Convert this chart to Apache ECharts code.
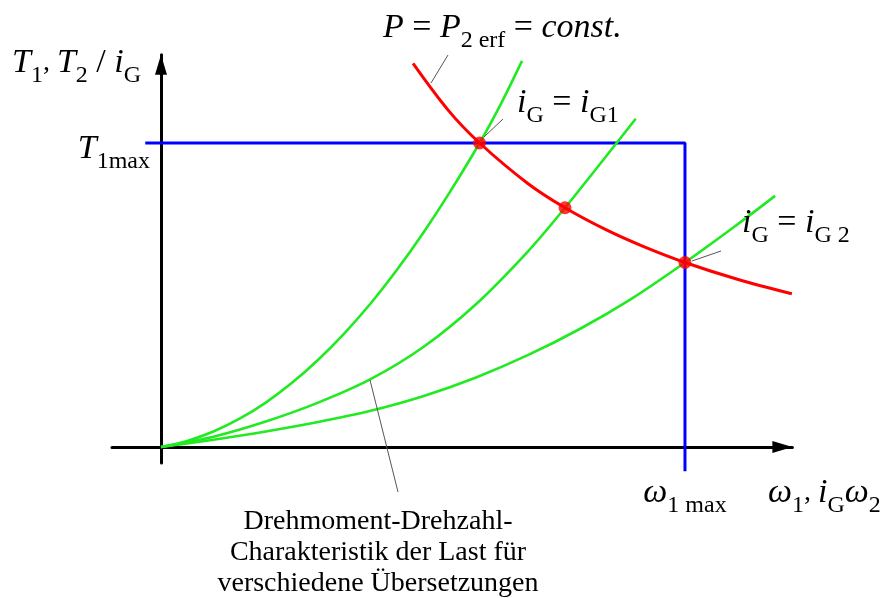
<!DOCTYPE html>
<html>
<head>
<meta charset="utf-8">
<script src="https://cdn.jsdelivr.net/npm/echarts@6/dist/echarts.min.js"></script>
<style>
  html, body { margin: 0; padding: 0; background: #fff; }
  #chart { width: 883px; height: 598px; }
</style>
</head>
<body>
<div id="chart"></div>
<script>
// Load characteristics T(ω) for three gear ratios (normalised: ω1max = 1, T1max = 1)
const gearHighOmega  = [0, 0.05, 0.1, 0.15, 0.2, 0.25, 0.3, 0.35, 0.4, 0.45, 0.5, 0.55, 0.608, 0.65, 0.689];
const gearHighTorque = [0, 0.02, 0.051, 0.093, 0.146, 0.211, 0.287, 0.374, 0.472, 0.582, 0.703, 0.835, 1.0, 1.133, 1.27];
const gearMidOmega   = [0, 0.1, 0.2, 0.3, 0.4, 0.5, 0.6, 0.7, 0.771, 0.906];
const gearMidTorque  = [0, 0.034, 0.084, 0.146, 0.223, 0.328, 0.468, 0.643, 0.787, 1.08];
const gearLowOmega   = [0, 0.1, 0.2, 0.3, 0.4, 0.5, 0.6, 0.7, 0.8, 0.9, 1.0, 1.1, 1.172];
const gearLowTorque  = [0, 0.024, 0.051, 0.082, 0.119, 0.167, 0.228, 0.302, 0.389, 0.49, 0.607, 0.732, 0.826];

// Constant required power P = P2erf: hyperbola T·ω = const.
const powerOmega  = [0.481, 0.55, 0.608, 0.7, 0.771, 0.85, 0.92, 1.0, 1.1, 1.204];
const powerTorque = [1.262, 1.104, 1.0, 0.867, 0.787, 0.714, 0.66, 0.607, 0.552, 0.504];

// Operating points where the load curves meet the power hyperbola
const pointOmega  = [0.608, 0.771, 1.0];
const pointTorque = [1.0, 0.787, 0.607];

// Motor limits: T1max (horizontal) and ω1max (vertical)
const limitOmega  = [-0.03, 1.0, 1.0];
const limitTorque = [1.0, 1.0, -0.08];

// Axis tick labels
const omegaTicks = [1.0];
const omegaTickLabels = ['{v|ω}{s|1 max}'];
const torqueTicks = [1.0];
const torqueTickLabels = ['{v|T}{s|1max}'];

const zip = (xs, ys) => xs.map((x, i) => [x, ys[i]]);

const SERIF = '"Liberation Serif", "DejaVu Serif", serif';
const rich = {
  v: { fontFamily: SERIF, fontStyle: 'italic', fontSize: 34, color: '#000' },
  n: { fontFamily: SERIF, fontSize: 34, color: '#000' },
  c: { fontFamily: SERIF, fontSize: 28, color: '#000' },
  s: { fontFamily: SERIF, fontSize: 24, color: '#000', padding: [26, 0, 0, 0] }
};

const chart = echarts.init(document.getElementById('chart'), null, { renderer: 'canvas' });

const greenLine = { color: '#22ea22', width: 2.6 };
const leader = { stroke: '#555', lineWidth: 1 };

const baseGraphics = [
  // leader lines from the annotations to their curves
  { type: 'line', shape: { x1: 448, y1: 55, x2: 431, y2: 83 }, style: leader, z: 10 },
  { type: 'line', shape: { x1: 503, y1: 119, x2: 484, y2: 137 }, style: leader, z: 10 },
  { type: 'line', shape: { x1: 721, y1: 251, x2: 692, y2: 261 }, style: leader, z: 10 },
  { type: 'line', shape: { x1: 370, y1: 380, x2: 398, y2: 492 }, style: leader, z: 10 },
  // axis titles and annotations
  { type: 'text', x: 12, y: 63, z: 10, style: {
      text: '{v|T}{s|1}{c|, }{v|T}{s|2}{n| / }{v|i}{s|G}', rich: rich,
      align: 'left', verticalAlign: 'middle' } },
  { type: 'text', x: 768, y: 493, z: 10, style: {
      text: '{v|ω}{s|1}{c|, }{v|i}{s|G}{v|ω}{s|2}', rich: rich,
      align: 'left', verticalAlign: 'middle' } },
  { type: 'text', x: 383, y: 28, z: 10, style: {
      text: '{v|P}{n| = }{v|P}{s|2 erf}{n| = }{v|const.}', rich: rich,
      align: 'left', verticalAlign: 'middle' } },
  { type: 'text', x: 517, y: 103, z: 10, style: {
      text: '{v|i}{s|G}{n| = }{v|i}{s|G1}', rich: rich,
      align: 'left', verticalAlign: 'middle' } },
  { type: 'text', x: 742, y: 223, z: 10, style: {
      text: '{v|i}{s|G}{n| = }{v|i}{s|G 2}', rich: rich,
      align: 'left', verticalAlign: 'middle' } },
  { type: 'text', x: 378, y: 553, z: 10, style: {
      text: 'Drehmoment-Drehzahl-\nCharakteristik der Last für\nverschiedene Übersetzungen',
      fontFamily: SERIF, fontSize: 28, lineHeight: 31, fill: '#000',
      align: 'center', verticalAlign: 'middle' } }
];

const axisCommon = {
  type: 'value',
  splitLine: { show: false },
  axisTick: { show: false },
  axisLabel: { show: false },
  axisLine: {
    onZero: true,
    symbol: ['none', 'triangle'],
    symbolSize: [12, 20],
    symbolOffset: [0, -10],
    lineStyle: { color: '#000', width: 3 }
  }
};

const option = {
  animation: false,
  backgroundColor: '#fff',
  grid: { left: 112, top: 54.84, width: 680.4, height: 408.16, containLabel: false },
  xAxis: Object.assign({}, axisCommon, { min: -0.09351, max: 1.205 }),
  yAxis: Object.assign({}, axisCommon, { min: -0.05263, max: 1.29 }),
  series: [
    {
      name: 'limits', type: 'line', data: zip(limitOmega, limitTorque),
      symbol: 'none', clip: false, z: 2,
      lineStyle: { color: '#0000ff', width: 3 }
    },
    {
      name: 'iG1', type: 'line', data: zip(gearHighOmega, gearHighTorque),
      symbol: 'none', smooth: 0.3, clip: false, z: 3,
      lineStyle: greenLine
    },
    {
      name: 'iGmid', type: 'line', data: zip(gearMidOmega, gearMidTorque),
      symbol: 'none', smooth: 0.3, clip: false, z: 3,
      lineStyle: greenLine
    },
    {
      name: 'iG2', type: 'line', data: zip(gearLowOmega, gearLowTorque),
      symbol: 'none', smooth: 0.3, clip: false, z: 3,
      lineStyle: greenLine
    },
    {
      name: 'P2erf', type: 'line', data: zip(powerOmega, powerTorque),
      symbol: 'none', smooth: 0.35, clip: false, z: 4,
      lineStyle: { color: '#ff0000', width: 3 }
    },
    {
      name: 'points', type: 'scatter', data: zip(pointOmega, pointTorque),
      symbol: 'circle', symbolSize: 13, clip: false, z: 5,
      itemStyle: { color: '#ff0000' }
    }
  ],
  graphic: baseGraphics
};

chart.setOption(option);

// Tick labels placed at their axis values through the chart's own scales
const tickGraphics = [];
torqueTicks.forEach((t, i) => {
  const p = chart.convertToPixel({ gridIndex: 0 }, [0, t]);
  tickGraphics.push({ type: 'text', x: p[0] - 11, y: p[1] + 6, z: 10, style: {
    text: torqueTickLabels[i], rich: rich, align: 'right', verticalAlign: 'middle' } });
});
omegaTicks.forEach((w, i) => {
  const p = chart.convertToPixel({ gridIndex: 0 }, [w, 0]);
  tickGraphics.push({ type: 'text', x: p[0], y: p[1] + 46, z: 10, style: {
    text: omegaTickLabels[i], rich: rich, align: 'center', verticalAlign: 'middle' } });
});
chart.setOption({ graphic: baseGraphics.concat(tickGraphics) });
</script>
</body>
</html>
